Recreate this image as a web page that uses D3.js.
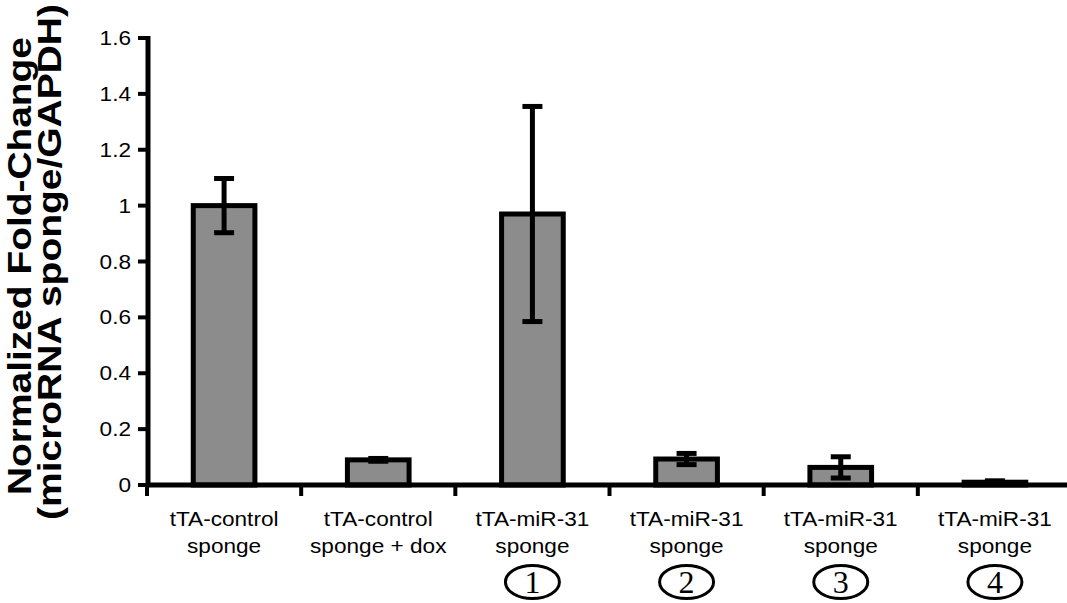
<!DOCTYPE html>
<html>
<head>
<meta charset="utf-8">
<script src="https://cdn.jsdelivr.net/npm/d3@7"></script>
<style>
  html, body { margin: 0; padding: 0; background: #fff; }
  svg { display: block; }
  text { font-family: "Liberation Sans", Arial, Helvetica, sans-serif; fill: #000; }
</style>
</head>
<body>
<svg id="chart" width="1067" height="603"></svg>
<script>
// Fold-change of sponge transcript, one bar per construct
const categories = ["c1", "c2", "c3", "c4", "c5", "c6"];
const labelLine1 = ["tTA-control", "tTA-control", "tTA-miR-31", "tTA-miR-31", "tTA-miR-31", "tTA-miR-31"];
const labelLine2 = ["sponge", "sponge + dox", "sponge", "sponge", "sponge", "sponge"];
const circleLabels = ["", "", "1", "2", "3", "4"];
const values = [1.0, 0.09, 0.97, 0.093, 0.063, 0.01];
const errors = [0.097, 0.005, 0.385, 0.02, 0.038, 0.005];
const yTicks = [0, 0.2, 0.4, 0.6, 0.8, 1, 1.2, 1.4, 1.6];
const titleLines = ["Normalized Fold-Change", "(microRNA sponge/GAPDH)"];

const svg = d3.select("#chart");
const textStretch = 1.16;

const x = d3.scaleBand()
  .domain(categories)
  .range([147, 1072])
  .paddingInner(0.6)
  .paddingOuter(0.3);
const y = d3.scaleLinear().domain([0, 1.6]).range([485, 38]);
const step = x.step();
const center = c => x(c) + x.bandwidth() / 2;

// Bars
svg.append("g").selectAll("rect")
  .data(categories)
  .join("rect")
  .attr("x", c => x(c))
  .attr("width", x.bandwidth())
  .attr("y", (c, i) => y(values[i]))
  .attr("height", (c, i) => y(0) - y(values[i]))
  .attr("fill", "#8c8c8c")
  .attr("stroke", "#000")
  .attr("stroke-width", 5);

// Error bars
const err = svg.append("g").attr("stroke", "#000").attr("stroke-width", 5);
categories.forEach((c, i) => {
  const cx = center(c);
  const hi = y(values[i] + errors[i]);
  const lo = y(values[i] - errors[i]);
  err.append("line").attr("x1", cx).attr("x2", cx).attr("y1", hi).attr("y2", lo);
  err.append("line").attr("x1", cx - 10).attr("x2", cx + 10).attr("y1", hi).attr("y2", hi);
  err.append("line").attr("x1", cx - 10).attr("x2", cx + 10).attr("y1", lo).attr("y2", lo);
});

// Y axis
const yAxis = svg.append("g");
yAxis.append("line")
  .attr("x1", 148).attr("x2", 148)
  .attr("y1", y(1.6) - 2).attr("y2", y(0) + 2)
  .attr("stroke", "#000").attr("stroke-width", 5);
yTicks.forEach(t => {
  yAxis.append("line")
    .attr("x1", 138).attr("x2", 148)
    .attr("y1", y(t)).attr("y2", y(t))
    .attr("stroke", "#000").attr("stroke-width", 4);
  yAxis.append("g")
    .attr("transform", `translate(131,${y(t)}) scale(${textStretch},1)`)
    .append("text")
    .attr("text-anchor", "end")
    .attr("dy", "0.36em")
    .style("font-size", "19.5px")
    .text(d3.format("~g")(t));
});

// X axis with ticks between categories
const xAxis = svg.append("g");
xAxis.append("line")
  .attr("x1", 146).attr("x2", 1067)
  .attr("y1", y(0)).attr("y2", y(0))
  .attr("stroke", "#000").attr("stroke-width", 5);
const boundaries = categories.map(c => center(c) - step / 2);
boundaries.push(center(categories[categories.length - 1]) + step / 2);
boundaries.forEach(b => {
  xAxis.append("line")
    .attr("x1", b).attr("x2", b)
    .attr("y1", y(0)).attr("y2", y(0) + 11)
    .attr("stroke", "#000").attr("stroke-width", 4);
});

// Category labels
categories.forEach((c, i) => {
  const cx = center(c);
  const g = svg.append("g").attr("transform", `translate(${cx},0) scale(${textStretch},1)`);
  g.append("text").attr("text-anchor", "middle").attr("y", 526)
    .style("font-size", "19.5px").text(labelLine1[i]);
  g.append("text").attr("text-anchor", "middle").attr("y", 553)
    .style("font-size", "19.5px").text(labelLine2[i]);
  if (circleLabels[i]) {
    svg.append("ellipse")
      .attr("cx", cx).attr("cy", 582)
      .attr("rx", 27).attr("ry", 16.5)
      .attr("fill", "none").attr("stroke", "#000").attr("stroke-width", 3);
    svg.append("text")
      .attr("x", cx).attr("y", 593)
      .attr("text-anchor", "middle")
      .style("font-family", "'Liberation Serif', 'Times New Roman', serif")
      .style("font-size", "32px")
      .text(circleLabels[i]);
  }
});

// Y axis title, two rotated lines
const titleSpecs = [
  { x: 31, cy: 266, len: 458 },
  { x: 61, cy: 262, len: 516 }
];
titleLines.forEach((t, i) => {
  const s = titleSpecs[i];
  svg.append("text")
    .attr("transform", `translate(${s.x},${s.cy}) rotate(-90)`)
    .attr("text-anchor", "middle")
    .attr("textLength", s.len)
    .attr("lengthAdjust", "spacingAndGlyphs")
    .style("font-size", "33px")
    .style("font-weight", "bold")
    .text(t);
});
</script>
</body>
</html>
